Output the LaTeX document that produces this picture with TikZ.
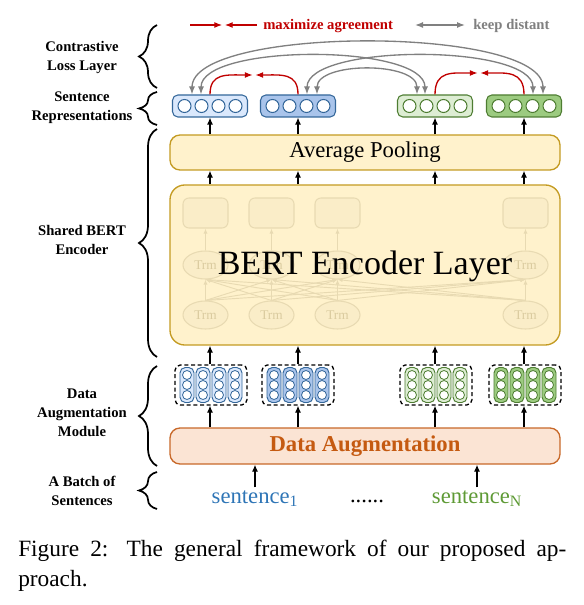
\documentclass[tikz,border=0pt]{standalone}
\usepackage{fontspec}
\setmainfont{Liberation Serif}
\usepackage{xcolor}
\usepackage{tikz}
\usetikzlibrary{arrows.meta,positioning,decorations.pathreplacing,calc,shapes.geometric}
\newlength\px
\setlength\px{0.75pt}
\definecolor{bluelite}{HTML}{DAE8FC}
\definecolor{bluemid}{HTML}{A9C4EB}
\definecolor{blueline}{HTML}{34679A}
\definecolor{greenlite}{HTML}{DDEDD3}
\definecolor{greenmid}{HTML}{9CCB80}
\definecolor{greenline}{HTML}{4E7D32}
\definecolor{poolfill}{HTML}{FFF2CC}
\definecolor{poolline}{HTML}{C49B22}
\definecolor{fadeline}{HTML}{E8DAB2}
\definecolor{fadefill}{HTML}{FAEDC8}
\definecolor{fadetext}{HTML}{DACB9F}
\definecolor{augfill}{HTML}{FBE4D4}
\definecolor{augline}{HTML}{C8692A}
\definecolor{augtext}{HTML}{C55A11}
\definecolor{agreered}{HTML}{C00000}
\definecolor{distgray}{HTML}{808080}
\definecolor{sentblue}{HTML}{2E75B6}
\definecolor{sentgreen}{HTML}{5E9A35}

\begin{document}
\begin{tikzpicture}[x=1\px, y=-1\px, every node/.style={inner sep=0pt},
  sideLbl/.style={font=\fontsize{11}{14.25}\selectfont\bfseries, align=center},
  sideBrace/.style={decorate, decoration={brace, amplitude=13.5pt}, line width=1.3pt},
  wideBox/.style={draw=poolline, fill=poolfill, rounded corners=7.5pt, line width=1pt, minimum width=390\px},
  repBox/.style={draw, rounded corners=4pt, line width=0.8pt, minimum width=75\px, minimum height=22\px},
  repDot/.style={circle, draw, fill=white, line width=0.75pt, minimum size=13\px},
  augGroup/.style={draw, densely dashed, rounded corners=4pt, line width=1pt, minimum width=72\px, minimum height=40\px},
  augCol/.style={draw, rounded corners=4pt, line width=0.7pt, minimum width=14\px, minimum height=35\px},
  augDot/.style={circle, draw, fill=white, line width=0.6pt, minimum size=9\px},
  fadeBox/.style={draw=fadeline, fill=fadefill, rounded corners=4.5pt, line width=0.8pt, minimum width=45\px, minimum height=30\px},
  fadeTrm/.style={ellipse, draw=fadeline, fill=fadefill, line width=0.8pt, minimum width=45\px, minimum height=28\px, text=fadetext, font=\fontsize{10}{12}\selectfont},
  fadeArr/.style={draw=fadeline, line width=0.7pt, -{Latex[length=3.75pt,width=3pt]}},
  upArr/.style={-{Latex[length=5.25pt,width=4.5pt]}, line width=0.9pt},
  agreeArr/.style={draw=agreered, line width=1pt, -{Latex[length=6pt,width=4.5pt]}},
  distArr/.style={draw=distgray, line width=1pt, {Latex[length=6pt,width=4.5pt]}-{Latex[length=6pt,width=4.5pt]}}]
\useasboundingbox (0,0) rectangle (583,605);

% legend
\coordinate (agL) at (190,25);
\coordinate (agM) at (223.5,25);
\coordinate (agR) at (257,25);
\draw[agreeArr] (agL) -- ([xshift=-0.9pt]agM);
\draw[agreeArr] (agR) -- ([xshift=0.9pt]agM);
\node[anchor=west, text=agreered, font=\fontsize{11}{13}\selectfont\bfseries] (agTxt) at (263,26) {maximize agreement};
\coordinate (kdL) at (415,25);
\coordinate (kdR) at (465,25);
\draw[distArr] (kdL) -- (kdR);
\node[anchor=west, text=distgray, font=\fontsize{11}{13}\selectfont\bfseries] (kdTxt) at (473,26) {keep distant};

% sentence representations
\foreach \nm/\cx/\fl/\ln in {sr1/210/bluelite/blueline, sr2/298/bluemid/blueline, sr3/435/greenlite/greenline, sr4/524/greenmid/greenline} {
  \node[repBox, fill=\fl, draw=\ln] (\nm) at (\cx,106) {};
  \foreach \dx in {-25.5,-8.5,8.5,25.5}
    \node[repDot, draw=\ln] at ($(\nm)+(\dx,0)$) {};
}

% contrastive loss
\coordinate (mB) at (254,75);
\coordinate (mG) at (479,73);
\draw[agreeArr] (sr1.north) .. controls +(0,-22) and +(-26,0) .. ([xshift=-0.9pt]mB);
\draw[agreeArr] (sr2.north) .. controls +(0,-22) and +(26,0) .. ([xshift=0.9pt]mB);
\draw[agreeArr] (sr3.north) .. controls +(0,-24) and +(-26,0) .. ([xshift=-0.9pt]mG);
\draw[agreeArr] (sr4.north) .. controls +(0,-24) and +(26,0) .. ([xshift=0.9pt]mG);
\draw[distArr] ([xshift=-13.5pt]sr1.north) .. controls +(0,-69) and +(0,-69) .. ([xshift=14.25pt]sr4.north);
\draw[distArr] ([xshift=-6.75pt]sr1.north) .. controls +(0,-51) and +(0,-51) .. ([xshift=-7.5pt]sr3.north);
\draw[distArr] ([xshift=6.75pt]sr2.north) .. controls +(0,-51) and +(0,-51) .. ([xshift=6.75pt]sr4.north);
\draw[distArr] ([xshift=14.25pt]sr2.north) .. controls +(0,-33) and +(0,-33) .. ([xshift=-13.5pt]sr3.north);

% average pooling and encoder
\node[wideBox, minimum height=35\px, font=\fontsize{17}{20}\selectfont] (pool) at (365,152.5) {Average Pooling};
\node[wideBox, minimum height=160\px, rounded corners=11pt] (bert) at (365,265) {};
\foreach \i/\cx in {1/205.5, 2/271.5, 3/337.5, 4/525.5} {
  \node[fadeBox] (tb\i) at (\cx,213) {};
  \node[fadeTrm] (tm\i) at (\cx,265) {Trm};
  \node[fadeTrm] (bm\i) at (\cx,315) {Trm};
  \draw[fadeArr] (tm\i) -- (tb\i);
}
\foreach \i in {1,...,4}
  \foreach \j in {1,...,4}
    \draw[fadeArr] (bm\i.north) -- (tm\j.south);
\node[font=\fontsize{25.5}{30}\selectfont] (bertTxt) at (365,266) {BERT Encoder Layer};

% data augmentation
\foreach \nm/\cx/\fl/\ln in {ar1/211/bluelite/blueline, ar2/298/bluemid/blueline, ar3/436/greenlite/greenline, ar4/525/greenmid/greenline} {
  \node[augGroup] (\nm) at (\cx,385) {};
  \foreach \dx in {-24,-8,8,24} {
    \node[augCol, fill=\fl, draw=\ln] at ($(\nm)+(\dx,0)$) {};
    \foreach \dy in {-10,0,10}
      \node[augDot, draw=\ln] at ($(\nm)+(\dx,\dy)$) {};
  }
}
\node[draw=augline, fill=augfill, rounded corners=7.5pt, line width=1pt, minimum width=390\px, minimum height=36\px,
  text=augtext, font=\fontsize{17}{20}\selectfont\bfseries] (aug) at (365,446) {Data Augmentation};

% sentences
\node[anchor=base, inner sep=2pt, text=sentblue, font=\fontsize{17}{20}\selectfont] (s1) at (255,503) {sentence\textsubscript{1}};
\node[anchor=base, font=\fontsize{17}{20}\selectfont] (dots) at (367,502) {......};
\node[anchor=base, inner sep=2pt, text=sentgreen, font=\fontsize{17}{20}\selectfont] (sN) at (477,503) {sentence\textsubscript{N}};
\draw[upArr] (s1.north) -- (s1 |- aug.south);
\draw[upArr] (sN.north) -- (sN |- aug.south);

\foreach \i in {1,...,4} {
  \draw[upArr] (sr\i |- aug.north) -- (sr\i |- ar\i.south);
  \draw[upArr] (sr\i |- ar\i.north) -- (sr\i |- bert.south);
  \draw[upArr] (sr\i |- bert.north) -- (sr\i |- pool.south);
  \draw[upArr] (sr\i |- pool.north) -- (sr\i.south);
}

% side labels
\node[sideLbl] (lblLoss) at (82,57) {Contrastive\\Loss Layer};
\node[sideLbl] (lblRep) at (82,108) {Sentence\\Representations};
\node[sideLbl] (lblBert) at (82,240) {Shared BERT\\Encoder};
\node[sideLbl] (lblAug) at (82,413) {Data\\Augmentation\\Module};
\node[sideLbl] (lblBatch) at (82,491) {A Batch of\\Sentences};
\draw[sideBrace] (157,88) -- (157,25);
\draw[sideBrace] (157,125) -- (157,92);
\draw[sideBrace] (157,357) -- (157,129);
\draw[sideBrace] (157,466) -- (157,366);
\draw[sideBrace] (157,509) -- (157,472);

% caption
\node[anchor=base west, font=\fontsize{17.5}{22}\selectfont] (cap1) at (18,556) {\hbox to 411pt{Figure 2: The general framework of our proposed ap-}};
\node[anchor=base west, font=\fontsize{17.5}{22}\selectfont] (cap2) at (18,586) {proach.};
\end{tikzpicture}
\end{document}
